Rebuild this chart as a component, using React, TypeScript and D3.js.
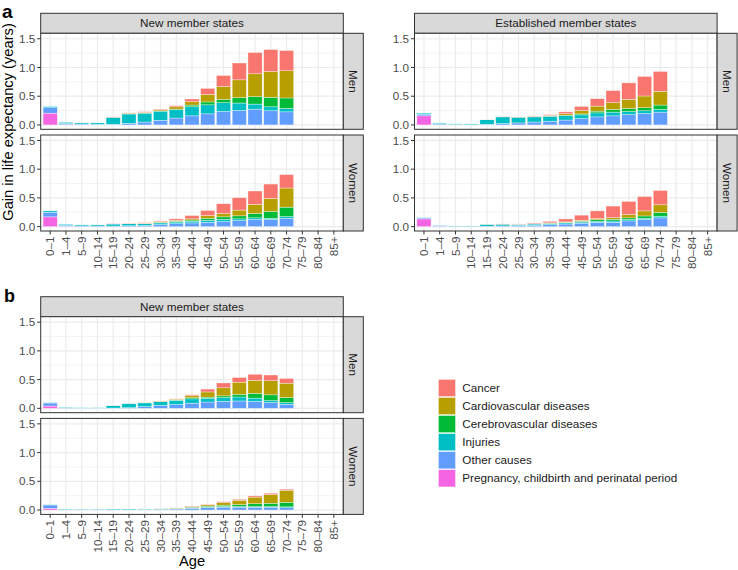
import React from "react";
import * as d3 from "d3";

// ---------- data ----------
const ageGroups = ["0–1","1–4","5–9","10–14","15–19","20–24","25–29","30–34","35–39","40–44","45–49","50–54","55–59","60–64","65–69","70–74","75–79","80–84","85+"];
// note: 20 positions on axis
const ageLabels = ["0–1","1–4","5–9","10–14","15–19","20–24","25–29","30–34","35–39","40–44","45–49","50–54","55–59","60–64","65–69","70–74","75–79","80–84","85+"];

const causes = ["Cancer","Cardiovascular diseases","Cerebrovascular diseases","Injuries","Other causes","Pregnancy, childbirth and perinatal period"];
const causeColors = ["#F8766D","#B79F00","#00BA38","#00BFC4","#619CFF","#F564E3"];
const yTicks = [0, 0.5, 1.0, 1.5];
const yMinor = [0.25, 0.75, 1.25];

// rows: Cancer, Cardio, Cerebro, Injuries, Other, Pregnancy (ages 0–1 .. 85+)
const aNewMen = [
  [0,0,0,0,0.005,0.005,0.01,0.01,0.02,0.046,0.106,0.193,0.293,0.37,0.382,0.352,0,0,0],
  [0,0,0,0,0,0.01,0.015,0.02,0.04,0.06,0.13,0.223,0.31,0.398,0.45,0.474,0,0,0],
  [0,0,0,0,0.005,0.005,0,0.005,0.01,0.03,0.05,0.058,0.094,0.129,0.164,0.182,0,0,0],
  [0.02,0.02,0.02,0.025,0.12,0.16,0.155,0.16,0.145,0.158,0.157,0.153,0.129,0.088,0.07,0.059,0,0,0],
  [0.095,0.02,0.015,0.01,0.01,0.03,0.05,0.08,0.12,0.158,0.193,0.234,0.252,0.275,0.246,0.228,0,0,0],
  [0.205,0.005,0,0,0,0,0,0,0,0,0,0,0,0,0,0,0,0,0],
];
const aNewWomen = [
  [0,0,0,0,0.005,0.005,0.01,0.015,0.025,0.058,0.087,0.17,0.216,0.233,0.25,0.233,0,0,0],
  [0,0,0,0,0,0.003,0.005,0.01,0.015,0.02,0.047,0.058,0.1,0.158,0.228,0.333,0,0,0],
  [0,0,0,0,0,0,0.005,0.01,0.015,0.02,0.035,0.041,0.053,0.076,0.117,0.163,0,0,0],
  [0.024,0.015,0.018,0.02,0.035,0.035,0.03,0.03,0.03,0.03,0.035,0.041,0.03,0.03,0.023,0.03,0,0,0],
  [0.08,0.02,0.012,0.01,0.01,0.015,0.02,0.035,0.05,0.065,0.076,0.088,0.105,0.123,0.123,0.146,0,0,0],
  [0.17,0.005,0,0,0,0,0,0,0,0,0,0,0,0,0,0,0,0,0],
];
const aEstMen = [
  [0,0,0,0,0.004,0.003,0.002,0.004,0.013,0.033,0.07,0.129,0.211,0.287,0.34,0.345,0,0,0],
  [0,0,0,0,0,0.003,0.003,0.005,0.012,0.025,0.06,0.088,0.117,0.158,0.204,0.24,0,0,0],
  [0,0,0,0,0,0,0,0.003,0.005,0.01,0.017,0.03,0.047,0.053,0.054,0.076,0,0,0],
  [0.018,0.015,0.01,0.013,0.08,0.115,0.1,0.09,0.085,0.075,0.065,0.07,0.065,0.052,0.046,0.047,0,0,0],
  [0.029,0.015,0.008,0.005,0.01,0.025,0.035,0.05,0.065,0.085,0.11,0.14,0.158,0.182,0.2,0.223,0,0,0],
  [0.158,0.005,0,0,0,0,0,0,0,0,0,0,0,0,0,0,0,0,0],
];
const aEstWomen = [
  [0,0,0,0,0.002,0.005,0.005,0.012,0.027,0.051,0.09,0.134,0.2,0.228,0.25,0.25,0,0,0],
  [0,0,0,0,0,0,0.002,0.003,0.005,0.008,0.015,0.02,0.03,0.058,0.088,0.134,0,0,0],
  [0,0,0,0,0,0,0,0.004,0.006,0.01,0.015,0.025,0.03,0.03,0.04,0.064,0,0,0],
  [0.006,0.01,0.006,0.006,0.03,0.03,0.022,0.02,0.02,0.02,0.02,0.02,0.023,0.023,0.023,0.03,0,0,0],
  [0.018,0.01,0.006,0.006,0.008,0.012,0.018,0.025,0.035,0.045,0.06,0.075,0.075,0.1,0.123,0.152,0,0,0],
  [0.134,0.003,0,0,0,0,0,0,0,0,0,0,0,0,0,0,0,0,0],
];
const bNewMen = [
  [0,0,0,0,0.002,0,0,0.003,0.005,0.015,0.05,0.085,0.082,0.105,0.1,0.082,0,0,0],
  [0,0,0,0,0,0.002,0.005,0.008,0.015,0.035,0.09,0.14,0.21,0.228,0.245,0.25,0,0,0],
  [0,0,0,0,0,0,0,0.003,0.005,0.02,0.02,0.03,0.047,0.082,0.1,0.088,0,0,0],
  [0.007,0.012,0.007,0.007,0.04,0.07,0.065,0.065,0.075,0.075,0.065,0.065,0.07,0.058,0.035,0.03,0,0,0],
  [0.053,0.01,0.005,0.005,0.005,0.01,0.03,0.05,0.065,0.09,0.11,0.122,0.128,0.12,0.1,0.07,0,0,0],
  [0.04,0,0,0,0,0,0,0,0,0,0,0,0,0,0,0,0,0,0],
];
const bNewWomen = [
  [0,0,0,0,0,0,0.002,0.002,0.003,0.008,0.01,0.015,0.017,0.021,0.025,0.018,0,0,0],
  [0,0,0,0,0,0,0.003,0.003,0.005,0.012,0.023,0.046,0.075,0.115,0.15,0.21,0,0,0],
  [0,0,0,0,0,0,0,0.003,0.005,0.01,0.017,0.025,0.035,0.05,0.058,0.08,0,0,0],
  [0.006,0.008,0.006,0.006,0.012,0.012,0.01,0.01,0.01,0.01,0.01,0.01,0.01,0.01,0.01,0.015,0,0,0],
  [0.058,0.008,0.006,0.006,0.005,0.006,0.008,0.012,0.018,0.03,0.04,0.05,0.05,0.05,0.05,0.04,0,0,0],
  [0.03,0,0,0,0,0,0,0,0,0,0,0,0,0,0,0,0,0,0],
];

// ---------- styles ----------
const FONT = "'Liberation Sans', Arial, Helvetica, sans-serif";
const GRID_MAJOR = "#EBEBEB";
const BORDER = "#333333";
const AXIS_TEXT = "#4D4D4D";
const STRIP_FILL = "#D9D9D9";
const STRIP_TEXT = "#1A1A1A";

const PANEL_W = 302.6;
const PANEL_H = 96;
const STRIP = 20;

// all 20 positions
const agesAll = ["0–1","1–4","5–9","10–14","15–19","20–24","25–29","30–34","35–39","40–44","45–49","50–54","55–59","60–64","65–69","70–74","75–79","80–84","85+"];

type PanelProps = { x: number; y: number; data: number[][]; xLabels: boolean; rowLabel: string };

function Panel({ x, y, data, xLabels, rowLabel }: PanelProps) {
  const labels = ageLabelsFull;
  const xs = d3.scaleBand<string>().domain(labels).range([x, x + PANEL_W]).paddingInner(0.1).paddingOuter(0.15);
  const ys = d3.scaleLinear().domain([-0.076, 1.595]).range([y + PANEL_H, y]);
  const keys = [5, 4, 3, 2, 1, 0].map(String);
  const rows = labels.map((lab, i) => {
    const r: any = { age: lab };
    for (let c = 0; c < 6; c++) r[String(c)] = data[c][i];
    return r;
  });
  const series = d3.stack<any>().keys(keys)(rows);
  const step = xs.step();
  return (
    <g>
      <rect x={x} y={y} width={PANEL_W} height={PANEL_H} fill="white" />
      {yMinor.map((v) => (
        <line key={"mn" + v} x1={x} x2={x + PANEL_W} y1={ys(v)} y2={ys(v)} stroke={GRID_MAJOR} strokeWidth={0.6} />
      ))}
      {yTicks.map((v) => (
        <line key={"mj" + v} x1={x} x2={x + PANEL_W} y1={ys(v)} y2={ys(v)} stroke={GRID_MAJOR} strokeWidth={1.2} />
      ))}
      {labels.map((lab) => {
        const cx = (xs(lab) as number) + xs.bandwidth() / 2;
        return <line key={"vx" + lab} x1={cx} x2={cx} y1={y} y2={y + PANEL_H} stroke={GRID_MAJOR} strokeWidth={1.2} />;
      })}
      {series.map((s) => (
        <g key={s.key} fill={causeColors[+s.key]}>
          {s.map((d, i) => {
            const v = d[1] - d[0];
            if (v <= 0) return null;
            return (
              <rect key={i} x={xs(labels[i])} width={xs.bandwidth()} y={ys(d[1])} height={ys(d[0]) - ys(d[1])}
                stroke="white" strokeWidth={0.5} strokeOpacity={0.7} />
            );
          })}
        </g>
      ))}
      <rect x={x} y={y} width={PANEL_W} height={PANEL_H} fill="none" stroke={BORDER} strokeWidth={1} />
      {/* y axis */}
      {yTicks.map((v) => (
        <g key={"yt" + v}>
          <line x1={x - 3.5} x2={x} y1={ys(v)} y2={ys(v)} stroke={BORDER} strokeWidth={1} />
          <text x={x - 5.5} y={ys(v)} dy="0.35em" textAnchor="end" fontSize={11.7} fill={AXIS_TEXT} fontFamily={FONT}>
            {d3.format(".1f")(v)}
          </text>
        </g>
      ))}
      {/* x axis */}
      {xLabels &&
        labels.map((lab) => {
          const cx = (xs(lab) as number) + xs.bandwidth() / 2;
          return (
            <g key={"xt" + lab}>
              <line x1={cx} x2={cx} y1={y + PANEL_H} y2={y + PANEL_H + 3.5} stroke={BORDER} strokeWidth={1} />
              <text transform={`translate(${cx},${y + PANEL_H + 5.5}) rotate(-90)`} dy="0.35em" textAnchor="end"
                fontSize={11.7} fill={AXIS_TEXT} fontFamily={FONT}>
                {lab}
              </text>
            </g>
          );
        })}
      {/* right strip */}
      <rect x={x + PANEL_W} y={y} width={STRIP} height={PANEL_H} fill={STRIP_FILL} stroke={BORDER} strokeWidth={1} />
      <text transform={`translate(${x + PANEL_W + STRIP / 2},${y + PANEL_H / 2}) rotate(90)`} dy="0.35em" textAnchor="middle"
        fontSize={11.7} fill={STRIP_TEXT} fontFamily={FONT}>
        {rowLabel}
      </text>
      {void step}
    </g>
  );
}

const ageLabelsFull = ["0–1","1–4","5–9","10–14","15–19","20–24","25–29","30–34","35–39","40–44","45–49","50–54","55–59","60–64","65–69","70–74","75–79","80–84","85+"];

function TopStrip({ x, y, label }: { x: number; y: number; label: string }) {
  return (
    <g>
      <rect x={x} y={y} width={PANEL_W} height={STRIP} fill={STRIP_FILL} stroke={BORDER} strokeWidth={1} />
      <text x={x + PANEL_W / 2} y={y + STRIP / 2} dy="0.35em" textAnchor="middle" fontSize={11.7} fill={STRIP_TEXT} fontFamily={FONT}>
        {label}
      </text>
    </g>
  );
}

function Grid({ x, y, title, men, women }: { x: number; y: number; title: string; men: number[][]; women: number[][] }) {
  return (
    <g>
      <TopStrip x={x} y={y} label={title} />
      <Panel x={x} y={y + STRIP} data={men} xLabels={false} rowLabel="Men" />
      <Panel x={x} y={y + STRIP + PANEL_H + 5.7} data={women} xLabels={true} rowLabel="Women" />
    </g>
  );
}

export default function App() {
  void ageGroups; void ageLabels; void agesAll;
  return (
    <svg width={738} height={570} style={{ position: "absolute", left: 0, top: 0, background: "white" }} fontFamily={FONT}>
      <rect width={738} height={570} fill="white" />
      <text x={2} y={18} fontSize={19} fontWeight="bold" fill="black">a</text>
      <text x={4} y={302} fontSize={18} fontWeight="bold" fill="black">b</text>
      <text transform="translate(13,122) rotate(-90)" textAnchor="middle" fontSize={14.7} fill="black">
        Gain in life expectancy (years)
      </text>
      <Grid x={40.7} y={13.3} title="New member states" men={aNewMen} women={aNewWomen} />
      <Grid x={414.5} y={13.3} title="Established member states" men={aEstMen} women={aEstWomen} />
      <Grid x={40.7} y={296.7} title="New member states" men={bNewMen} women={bNewWomen} />
      <text x={192} y={566} textAnchor="middle" fontSize={14.7} fill="black">Age</text>
      {causes.map((c, i) => (
        <g key={c}>
          <rect x={438.3} y={379.3 + i * 18.07} width={17.3} height={17.3} fill={causeColors[i]} stroke="white" strokeWidth={0.5} />
          <text x={462.3} y={379.3 + i * 18.07 + 8.65} dy="0.35em" fontSize={11.7} fill="#1A1A1A">{c}</text>
        </g>
      ))}
    </svg>
  );
}
